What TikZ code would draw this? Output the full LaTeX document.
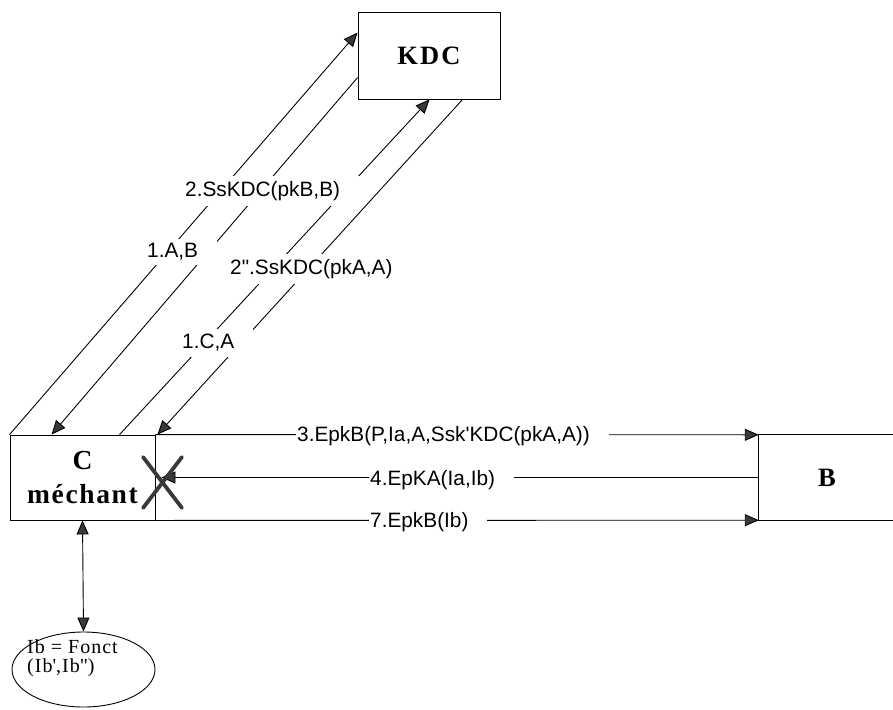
\documentclass[tikz,border=0pt]{standalone}
\usepackage{fontspec}
\setmainfont{Liberation Serif}
\newfontfamily\labfont{Liberation Sans}
\newfontfamily\kdcfont{Liberation Serif}[LetterSpace=8]
\newfontfamily\boxfont{Liberation Serif}[LetterSpace=6]
\newfontfamily\ellfont{Liberation Serif}[LetterSpace=5]
\usetikzlibrary{arrows.meta,shapes.geometric,calc}
\tikzset{
  box/.style={draw, line width=0.9pt, rectangle, inner sep=0pt},
  bigtext/.style={font=\boxfont\fontsize{27.5}{34}\selectfont\bfseries},
  kdctext/.style={font=\kdcfont\fontsize{26.5}{34}\selectfont\bfseries},
  elltext/.style={anchor=base west, inner sep=0pt, font=\ellfont\fontsize{20}{20}\selectfont},
  lab/.style={fill=white, anchor=west, inner xsep=1pt, inner ysep=5pt, font=\labfont\fontsize{20.8}{24}\selectfont},
  arr/.style={-{Triangle[length=14pt,width=12pt,fill=gray!45!black]}, line width=0.9pt},
  dbl/.style={{Triangle[length=14pt,width=12pt,fill=gray!45!black]}-{Triangle[length=14pt,width=12pt,fill=gray!45!black]}, line width=0.9pt},
  cross/.style={line width=3.8pt, draw=gray!45!black, line cap=round},
}
\begin{document}
\begin{tikzpicture}[x=1pt,y=-1pt]
\useasboundingbox (0,0) rectangle (893,709);
% boxes
\node[box, kdctext, minimum width=142pt, minimum height=87pt] (KDC) at (429,55.5) {KDC};
\node[box, bigtext, align=center, minimum width=145pt, minimum height=85pt] (C) at (82.5,477.5) {C\\méchant};
\node[kdctext, inner sep=0pt, minimum width=136pt, minimum height=85pt] (B) at (827,477.5) {B};
\draw[line width=0.9pt] (B.north east) -- (B.north west) -- (B.south west) -- (B.south east);
% ellipse
\node[draw, ellipse, line width=0.9pt, minimum width=143pt, minimum height=75pt, inner sep=0pt] (E) at (83.5,669.5) {};
\node[elltext] (Et1) at (27,653) {Ib = Fonct};
\node[elltext] (Et2) at (27,672) {(Ib\textquotesingle,Ib\textquotedbl)};
\draw[dbl] (C.south) -- (E.north);
% diagonal connectors
\draw[arr] (C.north west) -- ($(KDC.north west)+(0,21)$);
\draw[arr] ($(KDC.north west)+(0,66)$) -- ($(C.north west)+(42,0)$);
\draw[arr] ($(C.north west)+(110,0)$) -- ($(KDC.south west)+(72,0)$);
\draw[arr] ($(KDC.south west)+(105,0)$) -- ($(C.north east)+(2,0)$);
% horizontal connectors
\draw[arr] (C.north east) -- (B.north west);
\draw[arr] (B.west) -- ($(C.east)+(6,0)$);
\draw[arr] (C.south east) -- (B.south west);
% cross
\coordinate (X) at (162.5,482.5);
\draw[cross] ($(X)+(-19.5,-25.5)$) -- ($(X)+(19.5,25.5)$);
\draw[cross] ($(X)+(19.5,-25.5)$) -- ($(X)+(-19.5,25.5)$);
% labels
\node[lab] (l1) at (146,252) {1.A,B\hspace*{18pt}};
\node[lab] (l2) at (184,191) {2.SsKDC(pkB,B)\hspace*{18pt}};
\node[lab] (l3) at (229,269) {2\textquotedbl.SsKDC(pkA,A)\hspace*{18pt}};
\node[lab] (l4) at (181,343) {1.C,A\hspace*{18pt}};
\node[lab] (l5) at (296,436) {3.EpkB(P,Ia,A,Ssk\textquotesingle KDC(pkA,A))\hspace*{18pt}};
\node[lab] (l6) at (369,480) {4.EpKA(Ia,Ib)\hspace*{18pt}};
\node[lab] (l7) at (369,522) {7.EpkB(Ib)\hspace*{18pt}};
\end{tikzpicture}
\end{document}
